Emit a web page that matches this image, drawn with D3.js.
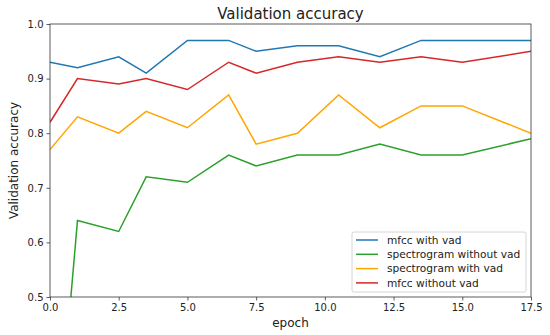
<!DOCTYPE html>
<html>
<head>
    <title>Validation accuracy</title>
    <script src="https://cdn.jsdelivr.net/npm/d3@7"></script>
    <style>
        body { margin: 0; background: #fff; }
        text { font-family: "DejaVu Sans", sans-serif; fill: #222; }
    </style>
</head>
<body>
    <svg width="550" height="335" id="mainsvg"></svg>
    <script>
        // epochs as they sit on the x axis
        const epochs = [0, 1, 2.5, 3.5, 5, 6.5, 7.5, 9, 10.5, 12, 13.5, 15, 17.5];
        const mfccWithVad = [0.93, 0.92, 0.94, 0.91, 0.97, 0.97, 0.95, 0.96, 0.96, 0.94, 0.97, 0.97, 0.97];
        const spectroWithoutVad = [0.06, 0.64, 0.62, 0.72, 0.71, 0.76, 0.74, 0.76, 0.76, 0.78, 0.76, 0.76, 0.79];
        const spectroWithVad = [0.77, 0.83, 0.80, 0.84, 0.81, 0.87, 0.78, 0.80, 0.87, 0.81, 0.85, 0.85, 0.80];
        const mfccWithoutVad = [0.82, 0.90, 0.89, 0.90, 0.88, 0.93, 0.91, 0.93, 0.94, 0.93, 0.94, 0.93, 0.95];
        const seriesNames = ['mfcc with vad', 'spectrogram without vad', 'spectrogram with vad', 'mfcc without vad'];
        const seriesColors = ['#1f77b4', '#2ca02c', '#ffa500', '#d62728'];
        const xTicks = [0, 2.5, 5, 7.5, 10, 12.5, 15, 17.5];
        const yTicks = [0.5, 0.6, 0.7, 0.8, 0.9, 1.0];

        const series = [mfccWithVad, spectroWithoutVad, spectroWithVad, mfccWithoutVad];

        const svg = d3.select('#mainsvg');
        const margin = { top: 24, right: 19, bottom: 38, left: 50 };
        const innerWidth = 550 - margin.left - margin.right;
        const innerHeight = 335 - margin.top - margin.bottom;

        const g = svg.append('g')
            .attr('transform', `translate(${margin.left}, ${margin.top})`);

        const xScale = d3.scaleLinear().domain([0, 17.5]).range([0, innerWidth]);
        const yScale = d3.scaleLinear().domain([0.5, 1.0]).range([innerHeight, 0]);

        // clip so the green line's first point goes under the axis
        svg.append('defs').append('clipPath').attr('id', 'plotclip')
            .append('rect').attr('width', innerWidth).attr('height', innerHeight);

        const line = d3.line()
            .x((d, i) => xScale(epochs[i]))
            .y(d => yScale(d));

        const lines = g.append('g').attr('clip-path', 'url(#plotclip)');
        series.forEach((s, k) => {
            lines.append('path')
                .datum(s)
                .attr('fill', 'none')
                .attr('stroke', seriesColors[k])
                .attr('stroke-width', 1.5)
                .attr('d', line);
        });

        const xAxis = d3.axisBottom(xScale).tickValues(xTicks).tickFormat(d3.format('.1f')).tickSize(3.5).tickPadding(3);
        const yAxis = d3.axisLeft(yScale).tickValues(yTicks).tickFormat(d3.format('.1f')).tickSize(3.5).tickPadding(3);

        const xg = g.append('g').attr('transform', `translate(0, ${innerHeight})`).call(xAxis);
        const yg = g.append('g').call(yAxis);
        [xg, yg].forEach(ax => {
            ax.select('.domain').remove();
            ax.selectAll('.tick line').attr('stroke', '#333').attr('stroke-width', 0.8);
            ax.selectAll('.tick text').attr('font-size', 10).attr('fill', '#222')
                .attr('font-family', '"DejaVu Sans", sans-serif');
        });

        // frame
        g.append('rect')
            .attr('width', innerWidth).attr('height', innerHeight)
            .attr('fill', 'none').attr('stroke', '#333').attr('stroke-width', 0.8);

        svg.append('text')
            .attr('x', margin.left + innerWidth / 2).attr('y', 19)
            .attr('text-anchor', 'middle').attr('font-size', 15)
            .text('Validation accuracy');

        svg.append('text')
            .attr('x', margin.left + innerWidth / 2).attr('y', 327)
            .attr('text-anchor', 'middle').attr('font-size', 12)
            .text('epoch');

        svg.append('text')
            .attr('transform', `translate(18, ${margin.top + innerHeight / 2}) rotate(-90)`)
            .attr('text-anchor', 'middle').attr('font-size', 12)
            .text('Validation accuracy');

        // legend
        const legend = g.append('g').attr('transform', `translate(${352 - margin.left}, ${232 - margin.top})`);
        legend.append('rect')
            .attr('width', 174).attr('height', 60).attr('rx', 2)
            .attr('fill', '#fff').attr('fill-opacity', 0.8)
            .attr('stroke', '#ccc').attr('stroke-width', 0.8);
        seriesNames.forEach((name, k) => {
            const row = legend.append('g').attr('transform', `translate(0, ${8 + k * 14.3})`);
            row.append('line')
                .attr('x1', 4).attr('x2', 26)
                .attr('stroke', seriesColors[k]).attr('stroke-width', 1.5);
            row.append('text')
                .attr('x', 35).attr('y', 3.8)
                .attr('font-size', 10.6)
                .text(name);
        });
    </script>
</body>
</html>
